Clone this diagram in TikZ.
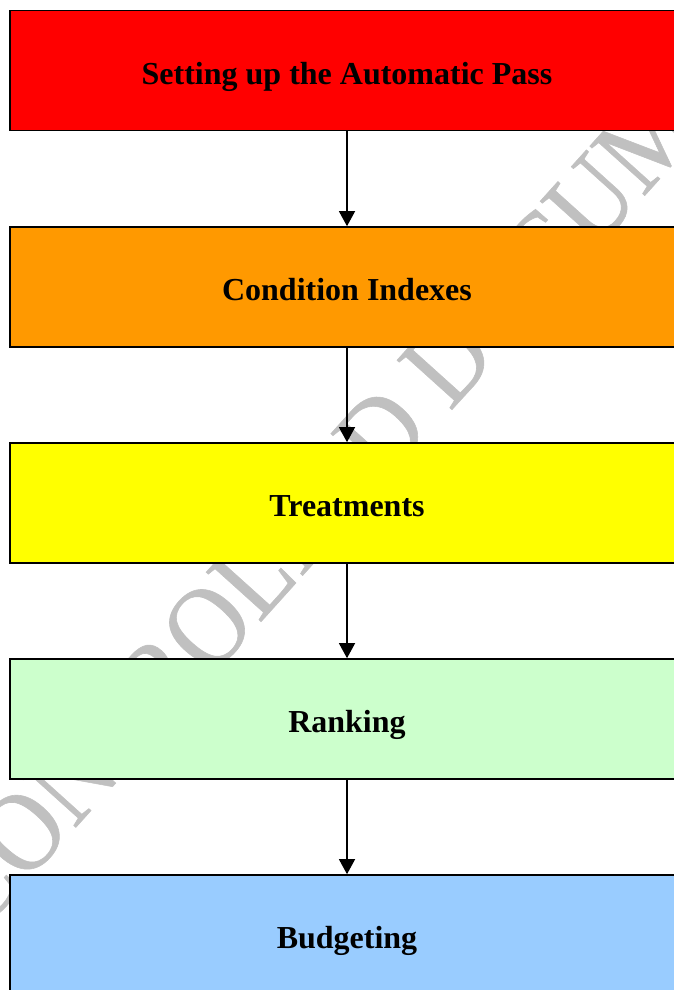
\documentclass[tikz,border=0pt]{standalone}
\usepackage{fontspec}
\setmainfont{Liberation Serif}
\newfontfamily\wmfont{Liberation Serif}[FakeStretch=0.9,FakeBold=0.5]
\usetikzlibrary{arrows.meta}
\definecolor{cRed}{HTML}{FF0000}
\definecolor{cOrange}{HTML}{FF9900}
\definecolor{cYellow}{HTML}{FFFF00}
\definecolor{cGreen}{HTML}{CCFFCC}
\definecolor{cBlue}{HTML}{99CCFF}
\definecolor{wmgray}{HTML}{C0C0C0}
\begin{document}
\begin{tikzpicture}[x=1pt,y=1pt,
  stage/.style={draw=black, line width=1.6pt, minimum width=674pt, minimum height=120pt,
    inner sep=0pt, text height=28pt, text depth=0pt,
    font=\fontsize{32}{38}\selectfont\bfseries, text=black},
  flow/.style={-{Triangle[length=15pt,width=16pt]}, line width=1.3pt},
  watermark/.style={text=wmgray, font=\wmfont\fontsize{113}{113}\selectfont, inner sep=0pt}]
\useasboundingbox (0,0) rectangle (674,990);
\clip (0,0) rectangle (674,990);
\node[watermark, rotate=48] (wm) at (331,501) {UNCONTROLLED DOCUMENT};
\node[stage, fill=cRed]    (s1) at (347,919.5) {Setting up the Automatic Pass};
\node[stage, fill=cOrange] (s2) at (347,703)   {Condition Indexes};
\node[stage, fill=cYellow] (s3) at (347,487)   {Treatments};
\node[stage, fill=cGreen]  (s4) at (347,271)   {Ranking};
\node[stage, fill=cBlue]   (s5) at (347,55)    {Budgeting};
\draw[flow] (s1) -- (s2);
\draw[flow] (s2) -- (s3);
\draw[flow] (s3) -- (s4);
\draw[flow] (s4) -- (s5);
\end{tikzpicture}
\end{document}
